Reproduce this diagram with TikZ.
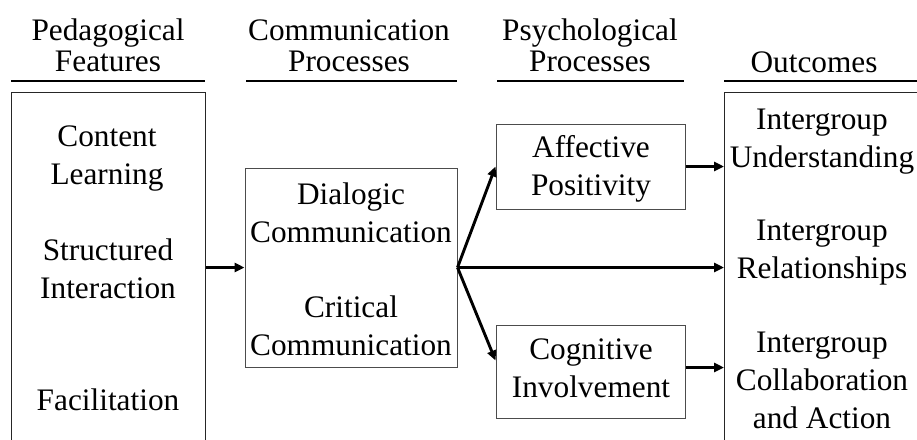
\documentclass[tikz,border=0pt]{standalone}
\usepackage{fontspec}
\setmainfont{Liberation Serif}
\usetikzlibrary{arrows.meta}
\begin{document}
\begin{tikzpicture}[x=1pt,y=1pt,
  label/.style={font=\fontsize{31.3}{38}\selectfont, align=center, inner sep=0pt, anchor=base},
  head/.style={font=\fontsize{31.3}{30.5}\selectfont, align=center, inner sep=0pt, anchor=base},
  rule/.style={line width=2pt},
  frame/.style={draw=black!85, line width=1.1pt, fill=none},
  boxed/.style={draw=black!70, line width=1pt, rectangle, inner sep=0pt},
  flow/.style={line width=2.9pt, -{Triangle[length=10pt,width=9pt]}}]
\useasboundingbox (0,0) rectangle (917,-439);

% column headings with their rules (anchor base = last line)
\node[head] (hPed) at (108,-71) {Pedagogical\\Features};
\node[head] (hCom) at (349,-71) {Communication\\Processes};
\node[head] (hPsy) at (590,-71) {Psychological\\Processes};
\node[head] (hOut) at (814,-72) {Outcomes};
\draw[rule] (11,-81) -- (205,-81);
\draw[rule] (246,-81) -- (457,-81);
\draw[rule] (497,-81) -- (684,-81);
\draw[rule] (724,-81) -- (917,-81);

% tall open-ended frames at both sides
\node[boxed, frame, minimum width=194pt, minimum height=380pt, anchor=north west] (ped) at (11,-92) {};
\node[boxed, frame, minimum width=230pt, minimum height=380pt, anchor=north west] (out) at (724,-92) {};

% inner boxes
\node[boxed, minimum width=212pt, minimum height=199pt] (com) at (351,-267.5) {};
\node[boxed, minimum width=189pt, minimum height=85pt] (aff) at (590.5,-166.5) {};
\node[boxed, minimum width=189pt, minimum height=93pt] (cog) at (590.5,-371.5) {};

% texts
\node[label] (t1) at (107,-184) {Content\\Learning};
\node[label] (t2) at (108,-298) {Structured\\Interaction};
\node[label] (t3) at (108,-410) {Facilitation};
\node[label] (t4) at (351,-242) {Dialogic\\Communication};
\node[label] (t5) at (351,-355) {Critical\\Communication};
\node[label] (t6) at (591,-195) {Affective\\Positivity};
\node[label] (t7) at (591,-397) {Cognitive\\Involvement};
\node[label] (t8) at (822,-167) {Intergroup\\Understanding};
\node[label] (t9) at (822,-278) {Intergroup\\Relationships};
\node[label] (t10) at (822,-428) {Intergroup\\Collaboration\\and Action};

% connectors
\coordinate (split) at (com.east);
\draw[flow] (com.west -| ped.east) -- (com.west);
\draw[flow] (split) -- (aff.west);
\draw[flow] (split) -- ([yshift=11pt]cog.west);
\draw[flow] (split) -- (split -| out.west);
\draw[flow] (aff.east) -- (aff.east -| out.west);
\draw[flow] ([yshift=4pt]cog.east) -- ([yshift=4pt]cog.east -| out.west);
\end{tikzpicture}
\end{document}
